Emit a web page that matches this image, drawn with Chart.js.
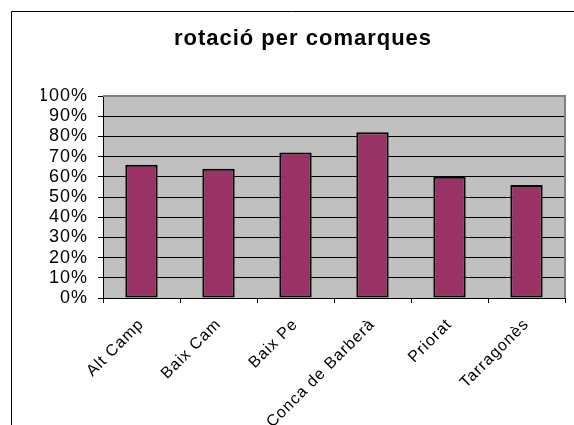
<!DOCTYPE html>
<html>
<head>
<meta charset="utf-8">
<script src="https://cdn.jsdelivr.net/npm/chart.js@4"></script>
<style>
  html, body { margin: 0; padding: 0; background: #ffffff; }
  #wrap { position: relative; width: 574px; height: 425px; }
</style>
</head>
<body>
<div id="wrap"><canvas id="chart" width="574" height="425"></canvas></div>
<script>
const comarques = ['Alt Camp', 'Baix Cam', 'Baix Pe', 'Conca de Barberà', 'Priorat', 'Tarragonès'];
const rotacio = [66, 64, 72, 82, 60, 56];
const yTicks = [0, 10, 20, 30, 40, 50, 60, 70, 80, 90, 100];

const fontFamily = '"Liberation Sans", Arial, sans-serif';

// frame of the sheet and the grey plot background
const excelLook = {
    id: 'excelLook',
    beforeDraw(chart) {
        const c = chart.ctx;
        const a = chart.chartArea;
        c.save();
        c.fillStyle = '#ffffff';
        c.fillRect(0, 0, chart.width, chart.height);
        c.strokeStyle = '#000000';
        c.lineWidth = 1;
        c.beginPath();
        c.moveTo(11.5, chart.height);
        c.lineTo(11.5, 11.5);
        c.lineTo(chart.width, 11.5);
        c.stroke();
        c.fillStyle = '#c0c0c0';
        c.fillRect(a.left, a.top, a.right - a.left, a.bottom - a.top);
        c.restore();
        // the old excel text is a bit spread out
        c.letterSpacing = '1px';
    },
    afterDraw(chart) {
        const c = chart.ctx;
        const a = chart.chartArea;
        c.letterSpacing = '0px';
        c.save();
        c.strokeStyle = '#808080';
        c.lineWidth = 2;
        c.beginPath();
        c.moveTo(a.left, a.top);
        c.lineTo(a.right, a.top);
        c.lineTo(a.right, a.bottom);
        c.stroke();
        c.restore();
    }
};

new Chart(document.getElementById('chart').getContext('2d'), {
    type: 'bar',
    data: {
        labels: comarques,
        datasets: [{
            label: 'rotació',
            data: rotacio,
            backgroundColor: '#993366',
            borderColor: '#000000',
            borderWidth: 2,
            borderSkipped: false,
            categoryPercentage: 1,
            barPercentage: 0.42
        }]
    },
    options: {
        responsive: false,
        animation: false,
        layout: { padding: { left: 41, right: 9, top: 0, bottom: 0 } },
        plugins: {
            legend: { display: false },
            tooltip: { enabled: false },
            title: {
                display: true,
                text: 'rotació per comarques',
                color: '#000000',
                font: { family: fontFamily, size: 22, weight: 'bold' },
                padding: { top: 26, bottom: 43.6 }
            }
        },
        scales: {
            x: {
                offset: true,
                border: { color: '#000000', width: 1 },
                grid: { offset: true, drawOnChartArea: false, drawTicks: true, tickLength: 5, color: '#000000' },
                ticks: {
                    color: '#000000',
                    font: { family: fontFamily, size: 16 },
                    minRotation: 45,
                    maxRotation: 45,
                    autoSkip: false,
                    padding: 12
                },
                afterFit(scale) { scale.height = 127; }
            },
            y: {
                min: 0,
                max: 100,
                afterBuildTicks(scale) { scale.ticks = yTicks.map(v => ({ value: v })); },
                border: { color: '#000000', width: 1 },
                grid: { color: '#000000', tickLength: 5, drawTicks: true },
                ticks: {
                    color: '#000000',
                    font: { family: fontFamily, size: 18 },
                    autoSkip: false,
                    padding: 10,
                    callback: v => v + '%'
                },
                afterFit(scale) { scale.width = 62; }
            }
        }
    },
    plugins: [excelLook]
});
</script>
</body>
</html>
